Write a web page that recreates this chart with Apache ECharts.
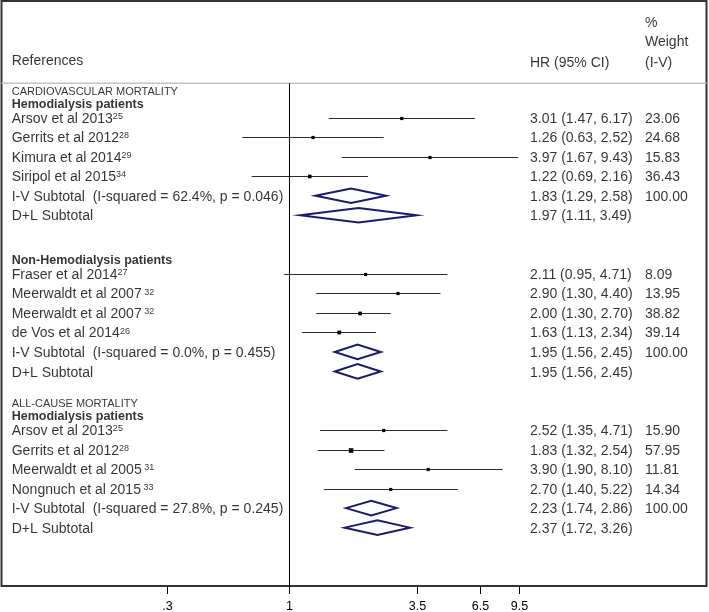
<!DOCTYPE html>
<html><head><meta charset="utf-8">
<script src="https://cdn.jsdelivr.net/npm/echarts@6/dist/echarts.min.js"></script>
<style>html,body{margin:0;padding:0;background:#fff}#c{width:709px;height:612px}</style>
</head><body><div id="c"></div>
<script>
// ---------- DATA ----------
// Cardiovascular mortality – hemodialysis patients
const cvHdStudies = ['Arsov et al 2013', 'Gerrits et al 2012', 'Kimura et al 2014', 'Siripol et al 2015'];
const cvHdRefs = ['25', '28', '29', '34'];
const cvHdHR = [3.01, 1.26, 3.97, 1.22];
const cvHdLo = [1.47, 0.63, 1.67, 0.69];
const cvHdHi = [6.17, 2.52, 9.43, 2.16];
const cvHdWt = [23.06, 24.68, 15.83, 36.43];
const cvHdIV = [1.83, 1.29, 2.58];
const cvHdIVhet = ['62.4%', '0.046'];
const cvHdDL = [1.97, 1.11, 3.49];

// Cardiovascular mortality – non-hemodialysis patients
const cvNhStudies = ['Fraser et al 2014', 'Meerwaldt et al 2007', 'Meerwaldt et al 2007', 'de Vos et al 2014'];
const cvNhRefs = ['27', ' 32', ' 32', '26'];
const cvNhHR = [2.11, 2.90, 2.00, 1.63];
const cvNhLo = [0.95, 1.30, 1.30, 1.13];
const cvNhHi = [4.71, 4.40, 2.70, 2.34];
const cvNhWt = [8.09, 13.95, 38.82, 39.14];
const cvNhIV = [1.95, 1.56, 2.45];
const cvNhIVhet = ['0.0%', '0.455'];
const cvNhDL = [1.95, 1.56, 2.45];

// All-cause mortality – hemodialysis patients
const acHdStudies = ['Arsov et al 2013', 'Gerrits et al 2012', 'Meerwaldt et al 2005', 'Nongnuch et al 2015'];
const acHdRefs = ['25', '28', ' 31', ' 33'];
const acHdHR = [2.52, 1.83, 3.90, 2.70];
const acHdLo = [1.35, 1.32, 1.90, 1.40];
const acHdHi = [4.71, 2.54, 8.10, 5.22];
const acHdWt = [15.90, 57.95, 11.81, 14.34];
const acHdIV = [2.23, 1.74, 2.86];
const acHdIVhet = ['27.8%', '0.245'];
const acHdDL = [2.37, 1.72, 3.26];

// Axis ticks
const tickValues = [0.3, 1, 3.5, 6.5, 9.5];
const tickLabels = ['.3', '1', '3.5', '6.5', '9.5'];

// Header texts
const headRefs = 'References';
const headHR = 'HR (95% CI)';
const headWeight = ['%', 'Weight', '(I-V)'];

// ---------- LAYOUT ----------
const FONT = '"Liberation Sans", Helvetica, Arial, sans-serif';
const NAVY = '#1a1a72';
const X_LABEL = 10.2, X_HR = 528.5, X_WT = 643.5, X_TXT_MAX = 705;
const Y_MIN = -5.978, Y_MAX = 23.99, SEP_ROW = -1.76;

const sections = [
  {title: 'CARDIOVASCULAR MORTALITY', group: 'Hemodialysis patients', st: cvHdStudies, ref: cvHdRefs, hr: cvHdHR, lo: cvHdLo, hi: cvHdHi, wt: cvHdWt, iv: cvHdIV, het: cvHdIVhet, dl: cvHdDL},
  {title: null, group: 'Non-Hemodialysis patients', st: cvNhStudies, ref: cvNhRefs, hr: cvNhHR, lo: cvNhLo, hi: cvNhHi, wt: cvNhWt, iv: cvNhIV, het: cvNhIVhet, dl: cvNhDL},
  {title: 'ALL-CAUSE MORTALITY', group: 'Hemodialysis patients', st: acHdStudies, ref: acHdRefs, hr: acHdHR, lo: acHdLo, hi: acHdHi, wt: acHdWt, iv: acHdIV, het: acHdIVhet, dl: acHdDL}
];

const f2 = v => v.toFixed(2);
const ciTxt = (e, l, h) => `${f2(e)} (${f2(l)}, ${f2(h)})`;

const textItems = [];
const studyItems = [];
const diamondItems = [];

let row = 0;
sections.forEach(s => {
  if (s.title) textItems.push({value: [X_LABEL, row - 1.4], txt: s.title, kind: 'title'});
  textItems.push({value: [X_LABEL, row - 0.76], txt: s.group, kind: 'group'});
  s.st.forEach((name, i) => {
    textItems.push({value: [X_LABEL, row], txt: `{n|${name}}{s|${s.ref[i]}}`, kind: 'study'});
    textItems.push({value: [X_HR, row], txt: ciTxt(s.hr[i], s.lo[i], s.hi[i]), kind: 'plain'});
    textItems.push({value: [X_WT, row], txt: f2(s.wt[i]), kind: 'plain'});
    studyItems.push([s.hr[i], row, s.lo[i], s.hi[i], s.wt[i]]);
    row++;
  });
  textItems.push({value: [X_LABEL, row], txt: `I-V Subtotal  (I-squared = ${s.het[0]}, p = ${s.het[1]})`, kind: 'plain'});
  textItems.push({value: [X_HR, row], txt: ciTxt(s.iv[0], s.iv[1], s.iv[2]), kind: 'plain'});
  textItems.push({value: [X_WT, row], txt: f2(100), kind: 'plain'});
  diamondItems.push([s.iv[0], row, s.iv[1], s.iv[2]]);
  row++;
  textItems.push({value: [X_LABEL, row], txt: 'D+L Subtotal', kind: 'plain'});
  textItems.push({value: [X_HR, row], txt: ciTxt(s.dl[0], s.dl[1], s.dl[2]), kind: 'plain'});
  diamondItems.push([s.dl[0], row, s.dl[1], s.dl[2]]);
  row += 3;
});

// headers
textItems.push({value: [X_LABEL, -2.95], txt: headRefs, kind: 'plain'});
textItems.push({value: [X_HR, -2.87], txt: headHR, kind: 'plain'});
textItems.push({value: [X_WT, -4.92], txt: headWeight[0], kind: 'plain'});
textItems.push({value: [X_WT, -3.94], txt: headWeight[1], kind: 'plain'});
textItems.push({value: [X_WT, -2.87], txt: headWeight[2], kind: 'plain'});

const styles = {
  title: {fontSize: 11, fontWeight: 'normal'},
  group: {fontSize: 12.5, fontWeight: 'bold'},
  study: {fontSize: 14, fontWeight: 'normal'},
  plain: {fontSize: 14, fontWeight: 'normal'}
};
textItems.forEach(t => {
  t.label = Object.assign({}, styles[t.kind]);
});

const chart = echarts.init(document.getElementById('c'), null, {renderer: 'canvas'});
chart.setOption({
  animation: false,
  backgroundColor: '#fff',
  grid: {left: 1.5, top: 1, right: 2.5, bottom: 26, show: true, borderColor: '#333', borderWidth: 2, backgroundColor: 'transparent'},
  xAxis: [
    {type: 'log', logBase: 10, min: 0.05925, max: 59.87, show: false},
    {type: 'value', min: 0, max: X_TXT_MAX, show: false}
  ],
  yAxis: [{type: 'value', inverse: true, min: Y_MIN, max: Y_MAX, show: false}],
  series: [
    { // header separator
      type: 'line', xAxisIndex: 1, yAxisIndex: 0, symbol: 'none', silent: true,
      data: [[0, SEP_ROW], [X_TXT_MAX, SEP_ROW]],
      lineStyle: {color: '#c4c4c4', width: 1.5}
    },
    { // reference line at HR = 1
      type: 'line', xAxisIndex: 0, yAxisIndex: 0, symbol: 'none', silent: true,
      data: [[1, SEP_ROW], [1, Y_MAX]],
      lineStyle: {color: '#000', width: 1}
    },
    { // study CIs and boxes
      type: 'custom', xAxisIndex: 0, yAxisIndex: 0, silent: true,
      encode: {x: 0, y: 1},
      data: studyItems,
      renderItem: (params, api) => {
        const r = api.value(1);
        const a = api.coord([api.value(2), r]);
        const b = api.coord([api.value(3), r]);
        const c = api.coord([api.value(0), r]);
        const y = Math.round(c[1]) + 0.5;
        const s = Math.max(3.2, 0.6 * Math.sqrt(api.value(4)));
        return {type: 'group', children: [
          {type: 'line', shape: {x1: a[0], y1: y, x2: b[0], y2: y}, style: {stroke: '#2a2a2a', lineWidth: 1}},
          {type: 'rect', shape: {x: c[0] - s / 2, y: y - s / 2, width: s, height: s}, style: {fill: '#000'}}
        ]};
      }
    },
    { // pooled diamonds
      type: 'custom', xAxisIndex: 0, yAxisIndex: 0, silent: true,
      encode: {x: 0, y: 1},
      data: diamondItems,
      renderItem: (params, api) => {
        const r = api.value(1);
        const e = api.coord([api.value(0), r]);
        const l = api.coord([api.value(2), r]);
        const h = api.coord([api.value(3), r]);
        const hh = 7.3;
        return {type: 'polygon', shape: {points: [[l[0], e[1]], [e[0], e[1] - hh], [h[0], e[1]], [e[0], e[1] + hh]]},
          style: {fill: null, stroke: NAVY, lineWidth: 2, lineJoin: 'miter'}};
      }
    },
    { // axis ticks and labels
      type: 'custom', xAxisIndex: 0, yAxisIndex: 0, silent: true, clip: false,
      encode: {x: 0},
      data: tickValues.map((v) => [v, Y_MAX]),
      renderItem: (params, api) => {
        const p = api.coord([api.value(0), api.value(1)]);
        const x = Math.round(p[0]) + 0.5;
        return {type: 'group', children: [
          {type: 'line', shape: {x1: x, y1: p[1], x2: x, y2: p[1] + 8}, style: {stroke: '#000', lineWidth: 1}},
          {type: 'text', x: x, y: p[1] + 21, style: {text: tickLabels[params.dataIndex], align: 'center', verticalAlign: 'middle', font: '12.5px ' + FONT, fill: '#000'}}
        ]};
      }
    },
    { // all text
      type: 'scatter', xAxisIndex: 1, yAxisIndex: 0, symbolSize: 0, silent: true, clip: false,
      data: textItems,
      label: {
        show: true, position: 'right', distance: 0, color: '#000', fontFamily: FONT, offset: [0, 1.2],
        formatter: p => p.data.txt,
        rich: {
          n: {fontSize: 14, fontFamily: FONT, color: '#000', lineHeight: 17},
          s: {fontSize: 9, fontFamily: FONT, color: '#000', verticalAlign: 'top', lineHeight: 10, padding: [1.5, 0, 0, 0]}
        }
      }
    }
  ]
});
</script>
</body></html>
